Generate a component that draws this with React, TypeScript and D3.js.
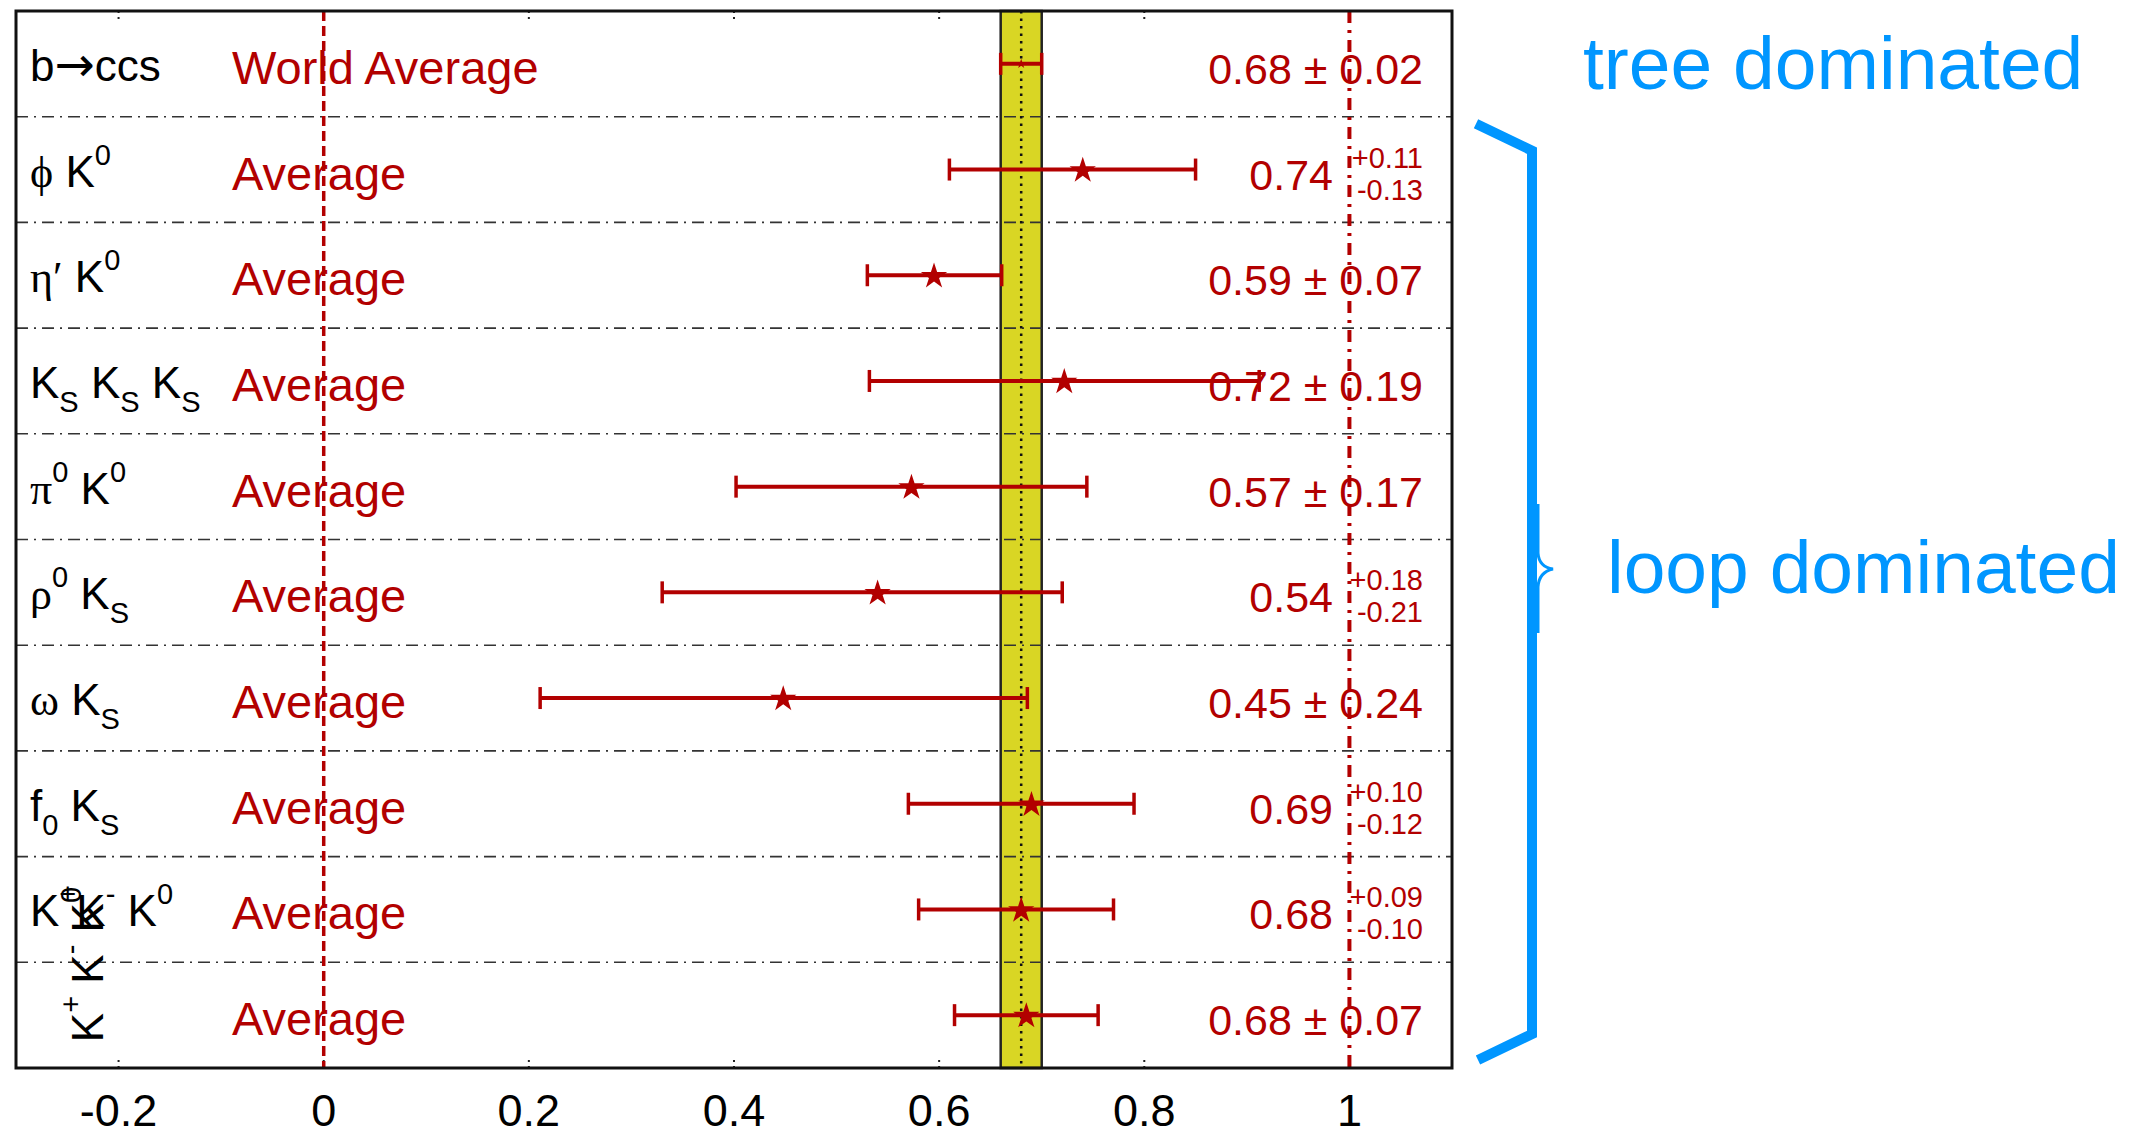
import React from "react";
import * as d3 from "d3";

// ---------- data ----------
const decays = [
  "b→ccs",
  "ϕ K^{0}",
  "η′ K^{0}",
  "K_{S} K_{S} K_{S}",
  "π^{0} K^{0}",
  "ρ^{0} K_{S}",
  "ω K_{S}",
  "f_{0} K_{S}",
  "K^{+}K^{-} K^{0}",
  "",
];
const rotatedLabel = "K^{+} K^{-} K^{0}";
const methods = [
  "World Average",
  "Average",
  "Average",
  "Average",
  "Average",
  "Average",
  "Average",
  "Average",
  "Average",
  "Average",
];
const values = [0.68, 0.74, 0.595, 0.722, 0.573, 0.54, 0.448, 0.69, 0.68, 0.685];
const errPlus = [0.02, 0.11, 0.066, 0.19, 0.171, 0.18, 0.238, 0.1, 0.09, 0.07];
const errMinus = [0.02, 0.13, 0.065, 0.19, 0.171, 0.21, 0.237, 0.12, 0.1, 0.07];
const valueText = ["0.68", "0.74", "0.59", "0.72", "0.57", "0.54", "0.45", "0.69", "0.68", "0.68"];
const plusText = ["0.02", "0.11", "0.07", "0.19", "0.17", "0.18", "0.24", "0.10", "0.09", "0.07"];
const minusText = ["0.02", "0.13", "0.07", "0.19", "0.17", "0.21", "0.24", "0.12", "0.10", "0.07"];
const symmetric = [true, false, true, true, true, false, true, false, false, true];
const worldAvg = 0.68;
const worldErr = 0.02;
const tickValues = [-0.2, 0, 0.2, 0.4, 0.6, 0.8, 1];
const tickLabels = ["-0.2", "0", "0.2", "0.4", "0.6", "0.8", "1"];
const groupLabels = ["tree dominated", "loop dominated"];

// ---------- style ----------
const W = 2144;
const H = 1137;
const RED = "#b20000";
const BLUE = "#0096ff";
const YELLOW = "#d9d624";
const SANS = "'Liberation Sans', Arial, Helvetica, sans-serif";
const SERIF = "'Liberation Serif', 'Times New Roman', serif";
const ARROWFONT = "'DejaVu Sans', sans-serif";

function rich(str: string, subSize: number, supDy: number, subDy: number) {
  const parts = str.split(/(\^\{[^}]*\}|_\{[^}]*\})/).filter((s) => s.length);
  const out: any[] = [];
  let shift = 0;
  parts.forEach((p, i) => {
    if (p.startsWith("^{")) {
      out.push(
        <tspan key={i} fontSize={subSize} dy={supDy - shift}>
          {p.slice(2, -1)}
        </tspan>
      );
      shift = supDy;
    } else if (p.startsWith("_{")) {
      out.push(
        <tspan key={i} fontSize={subSize} dy={subDy - shift}>
          {p.slice(2, -1)}
        </tspan>
      );
      shift = subDy;
    } else {
      const segs = p.split(/([\u0370-\u03FF\u2032]+|[\u2190-\u21FF]+)/).filter((s) => s.length);
      segs.forEach((s, j) => {
        const greek = /[\u0370-\u03FF\u2032]/.test(s);
        const arrow = /[\u2190-\u21FF]/.test(s);
        out.push(
          <tspan
            key={i + "-" + j}
            fontFamily={greek ? SERIF : arrow ? ARROWFONT : undefined}
            fontSize={arrow ? 48 : undefined}
            dy={-shift}
          >
            {s}
          </tspan>
        );
        shift = 0;
      });
    }
  });
  return out;
}

export default function App() {
  const left = 16,
    right = 1452,
    top = 11,
    bottom = 1068;
  const x = d3.scaleLinear().domain([-0.3, 1.1]).range([left, right]);
  const rows = d3.range(decays.length);
  const y = d3.scaleBand<number>().domain(rows).range([top, bottom]).padding(0);
  const bw = y.bandwidth();
  const cy = (i: number) => (y(i) as number) + bw / 2;

  const bigStar = d3.symbol().type(d3.symbolStar).size(215)() as string;
  const smallStar = d3.symbol().type(d3.symbolStar).size(30)() as string;

  // bracket geometry derived from rows 1..9
  const bx = 1532;
  const bTop = (y(1) as number) + 34;
  const bBot = (y(rows.length - 1) as number) + bw - 34;
  const notchY = 569;

  return (
    <svg
      width={W}
      height={H}
      style={{ position: "absolute", left: 0, top: 0, background: "#fff" }}
      fontFamily={SANS}
    >
      <rect x={0} y={0} width={W} height={H} fill="#fff" />
      {/* yellow band */}
      <rect
        x={x(worldAvg - worldErr)}
        y={top}
        width={x(worldAvg + worldErr) - x(worldAvg - worldErr)}
        height={bottom - top}
        fill={YELLOW}
        stroke="#222"
        strokeWidth={2.5}
      />
      {/* row separators */}
      {rows.slice(1).map((i) => (
        <line
          key={"sep" + i}
          x1={left}
          x2={right}
          y1={y(i)}
          y2={y(i)}
          stroke="#333"
          strokeWidth={1.6}
          strokeDasharray="12,6,2,6"
        />
      ))}
      {/* center dotted line */}
      <line
        x1={x(worldAvg)}
        x2={x(worldAvg)}
        y1={top}
        y2={bottom}
        stroke="#111"
        strokeWidth={2.5}
        strokeDasharray="2.5,5"
      />
      {/* ticks */}
      {tickValues.map((t, i) => (
        <g key={"tk" + i}>
          <line x1={x(t)} x2={x(t)} y1={top} y2={top + 10} stroke="#222" strokeWidth={2} strokeDasharray="2,4" />
          <line x1={x(t)} x2={x(t)} y1={bottom} y2={bottom - 11} stroke="#222" strokeWidth={2} strokeDasharray="2,4" />
          <text x={x(t)} y={1126} fontSize={45} textAnchor="middle" fill="#000">
            {tickLabels[i]}
          </text>
        </g>
      ))}
      {/* red reference lines */}
      <line x1={x(0)} x2={x(0)} y1={top} y2={bottom} stroke={RED} strokeWidth={3.5} strokeDasharray="10,5" />
      <line x1={x(1)} x2={x(1)} y1={top} y2={bottom} stroke={RED} strokeWidth={4} strokeDasharray="12,7,3,7" />

      {/* left labels */}
      {rows.map((i) => (
        <text key={"lab" + i} x={30} y={cy(i) + 17} fontSize={44} fill="#000" style={{ whiteSpace: "pre" }}>
          {rich(decays[i], 29, -22, 14)}
        </text>
      ))}
      {/* rotated label */}
      <text
        transform={`translate(103,${cy(rows.length - 1) + 27}) rotate(-90)`}
        fontSize={44}
        fill="#000"
        style={{ whiteSpace: "pre" }}
      >
        {rich(rotatedLabel, 29, -22, 14)}
      </text>

      {/* method labels */}
      {rows.map((i) => (
        <text key={"m" + i} x={232} y={cy(i) + 20} fontSize={47} fill={RED}>
          {methods[i]}
        </text>
      ))}

      {/* error bars */}
      {rows.map((i) => {
        const x0 = x(values[i] - errMinus[i]);
        const x1 = x(values[i] + errPlus[i]);
        const c = cy(i);
        return (
          <g key={"eb" + i}>
            <line x1={x0} x2={x1} y1={c} y2={c} stroke={RED} strokeWidth={4} />
            <line x1={x0} x2={x0} y1={c - 11} y2={c + 11} stroke={RED} strokeWidth={3.5} />
            <line x1={x1} x2={x1} y1={c - 11} y2={c + 11} stroke={RED} strokeWidth={3.5} />
            <path d={i === 0 ? smallStar : bigStar} transform={`translate(${x(values[i])},${c + (i === 0 ? 0 : 1)})`} fill={RED} />
          </g>
        );
      })}

      {/* value texts */}
      {rows.map((i) => {
        const c = cy(i);
        if (symmetric[i]) {
          return (
            <text key={"v" + i} x={1423} y={c + 20} fontSize={43} fill={RED} textAnchor="end" style={{ whiteSpace: "pre" }}>
              {valueText[i] + " ± " + plusText[i]}
            </text>
          );
        }
        return (
          <g key={"v" + i}>
            <text x={1333} y={c + 20} fontSize={43} fill={RED} textAnchor="end">
              {valueText[i]}
            </text>
            <text x={1423} y={c - 2} fontSize={29} fill={RED} textAnchor="end">
              {"+" + plusText[i]}
            </text>
            <text x={1423} y={c + 30} fontSize={29} fill={RED} textAnchor="end">
              {"-" + minusText[i]}
            </text>
          </g>
        );
      })}

      {/* frame */}
      <rect x={left} y={top} width={right - left} height={bottom - top} fill="none" stroke="#111" strokeWidth={3} />

      {/* bracket */}
      <path
        d={`M${bx - 56},${bTop - 27} L${bx},${bTop} L${bx},${bBot} L${bx - 54},${bBot + 26}`}
        fill="none"
        stroke={BLUE}
        strokeWidth={10}
        strokeLinejoin="miter"
      />
      <path
        d={`M${bx + 6},${notchY - 65} L${bx + 6},${notchY - 16} Q${bx + 7},${notchY - 2} ${bx + 21},${notchY} Q${bx + 7},${notchY + 3} ${bx + 6},${notchY + 18} L${bx + 6},${notchY + 64}`}
        fill="none"
        stroke={BLUE}
        strokeWidth={3}
      />
      <text x={1583} y={89} fontSize={75} fill={BLUE}>
        {groupLabels[0]}
      </text>
      <text x={1607} y={593} fontSize={75} fill={BLUE}>
        {groupLabels[1]}
      </text>
    </svg>
  );
}
